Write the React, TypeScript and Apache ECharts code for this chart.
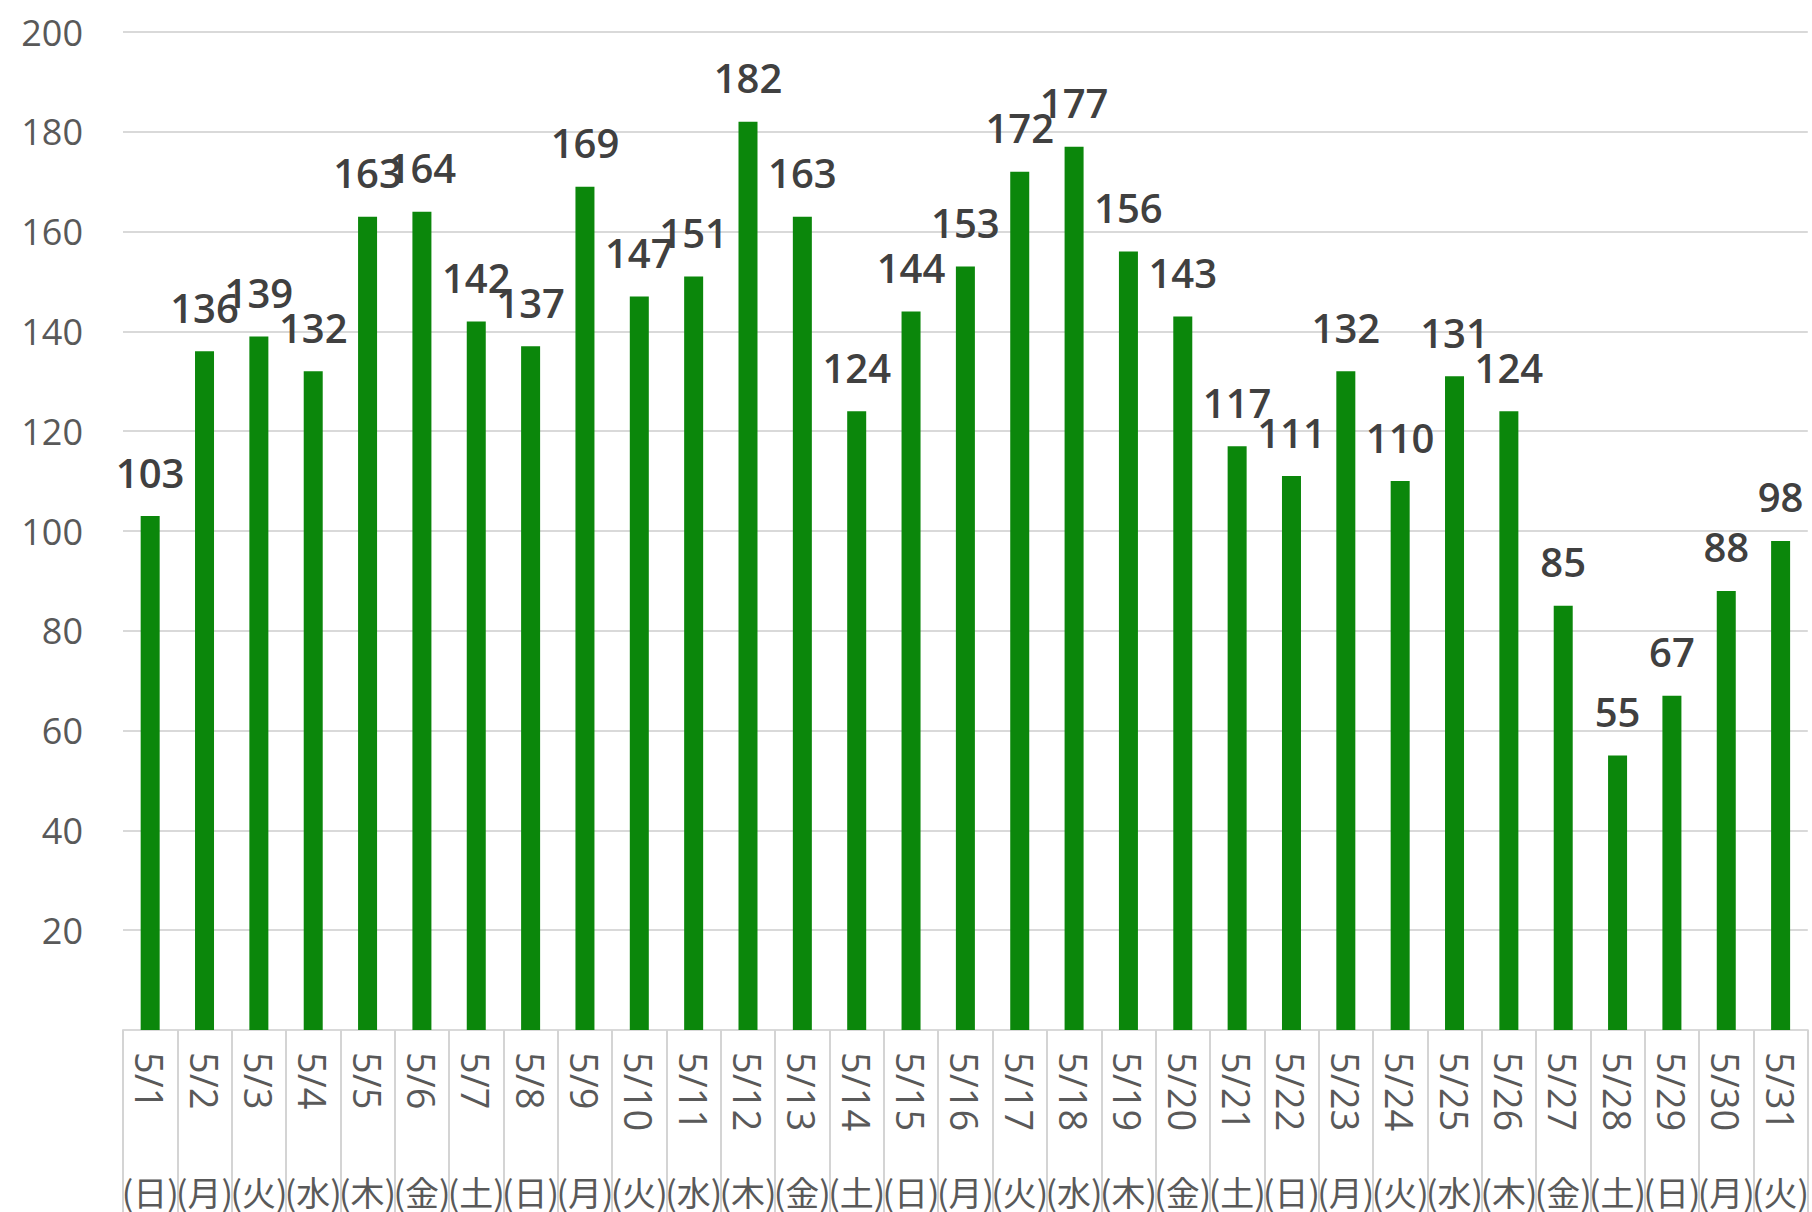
import React, { useEffect, useRef } from "react";
import * as echarts from "echarts";

const dates = [
  "5/1", "5/2", "5/3", "5/4", "5/5", "5/6", "5/7", "5/8", "5/9", "5/10",
  "5/11", "5/12", "5/13", "5/14", "5/15", "5/16", "5/17", "5/18", "5/19", "5/20",
  "5/21", "5/22", "5/23", "5/24", "5/25", "5/26", "5/27", "5/28", "5/29", "5/30", "5/31",
];
const weekdays = [
  "(日)", "(月)", "(火)", "(水)", "(木)", "(金)", "(土)",
  "(日)", "(月)", "(火)", "(水)", "(木)", "(金)", "(土)",
  "(日)", "(月)", "(火)", "(水)", "(木)", "(金)", "(土)",
  "(日)", "(月)", "(火)", "(水)", "(木)", "(金)", "(土)",
  "(日)", "(月)", "(火)",
];
const values = [
  103, 136, 139, 132, 163, 164, 142, 137, 169, 147,
  151, 182, 163, 124, 144, 153, 172, 177, 156, 143,
  117, 111, 132, 110, 131, 124, 85, 55, 67, 88, 98,
];
const yMin = 0;
const yMax = 200;
const yStep = 20;

export default function App() {
  const ref = useRef<HTMLDivElement>(null);
  useEffect(() => {
    if (!ref.current) return;
    const chart = echarts.init(ref.current, undefined, { renderer: "svg" });
    chart.setOption({
      animation: false,
      backgroundColor: "#ffffff",
      grid: { left: 123, right: -2, top: 32, bottom: 182, containLabel: false },
      xAxis: [
        {
          type: "category",
          data: dates,
          position: "bottom",
          axisLine: { show: true, lineStyle: { color: "#d9d9d9", width: 2 } },
          axisTick: {
            show: true,
            interval: 0,
            length: 190,
            lineStyle: { color: "#d4d4d4", width: 2 },
          },
          axisLabel: {
            interval: 0,
            rotate: -90,
            margin: 22,
            color: "#595959",
            fontSize: 38,
            fontFamily: "Open Sans",
          },
        },
        {
          type: "category",
          data: weekdays,
          position: "bottom",
          axisLine: { show: false },
          axisTick: { show: false },
          axisLabel: {
            interval: 0,
            margin: 144,
            color: "#595959",
            fontSize: 34,
            fontFamily: "Noto Sans CJK JP",
          },
        },
      ],
      yAxis: {
        type: "value",
        min: yMin,
        max: yMax,
        interval: yStep,
        axisLine: { show: false },
        axisTick: { show: false },
        splitLine: { lineStyle: { color: "#d9d9d9", width: 2 } },
        axisLabel: {
          margin: 40,
          color: "#595959",
          fontSize: 36,
          fontFamily: "Open Sans",
          formatter: (v: number) => (v === 0 ? "" : String(v)),
        },
      },
      series: [
        {
          type: "bar",
          xAxisIndex: 0,
          data: values,
          barWidth: 19,
          itemStyle: { color: "#0b870b" },
          label: {
            show: true,
            position: "top",
            distance: 24,
            color: "#404040",
            fontSize: 40,
            fontWeight: 600,
            fontFamily: "Open Sans",
          },
        },
      ],
    });
    return () => chart.dispose();
  }, []);
  return (
    <div
      ref={ref}
      style={{ position: "fixed", left: 0, top: 0, width: 1812, height: 1212 }}
    />
  );
}
